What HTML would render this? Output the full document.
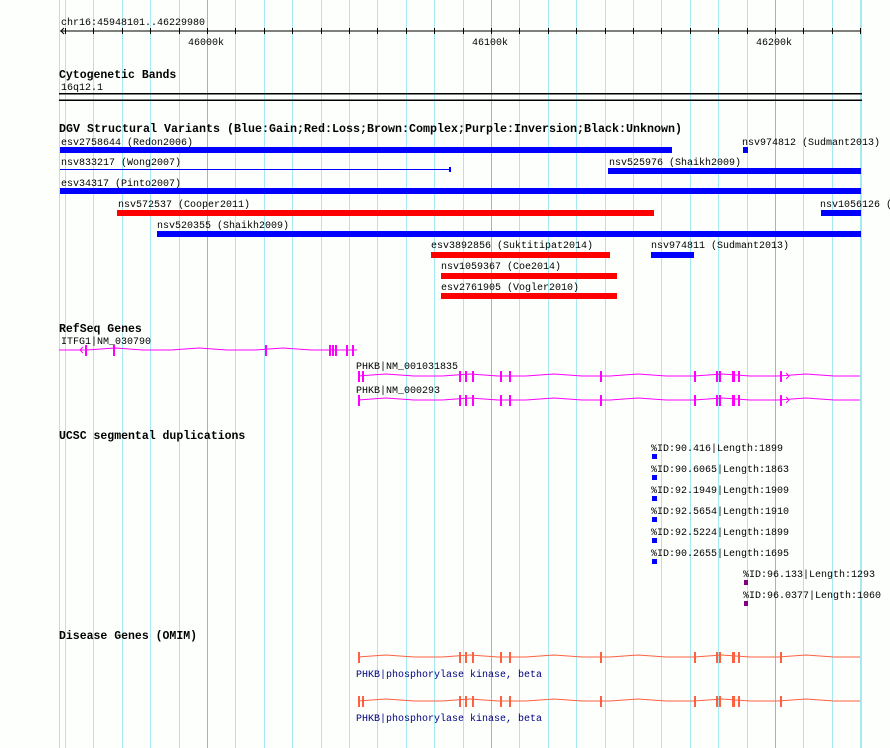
<!DOCTYPE html>
<html><head><meta charset="utf-8"><style>
html,body{margin:0;padding:0;background:#fdfffd}
svg{display:block}
text{font-family:"Liberation Mono","DejaVu Sans Mono",monospace;font-size:10px}
.t{font-weight:bold;font-size:11.5px}
</style></head><body>
<svg id="s" width="890" height="748" xmlns="http://www.w3.org/2000/svg">
<rect width="890" height="748" fill="#fdfffd"/>
<g id="grid"></g>
<!-- ruler -->
<line x1="60" y1="31" x2="861" y2="31" stroke="#000" stroke-width="1"/>
<polyline points="64,28 61,31 64,34" fill="none" stroke="#000"/>
<g id="ticks"></g>
<text x="61" y="25">chr16:45948101..46229980</text>
<text x="188" y="45">46000k</text>
<text x="472" y="45">46100k</text>
<text x="756" y="45">46200k</text>

<text class="t" x="59" y="78">Cytogenetic Bands</text>
<text x="61" y="90">16q12.1</text>
<rect x="59" y="93" width="803" height="1.5" fill="#000"/>
<rect x="59" y="99.5" width="803" height="1.5" fill="#000"/>

<text class="t" x="59" y="132" textLength="623" lengthAdjust="spacingAndGlyphs">DGV Structural Variants (Blue:Gain;Red:Loss;Brown:Complex;Purple:Inversion;Black:Unknown)</text>
<text x="61" y="145">esv2758644 (Redon2006)</text>
<rect x="60" y="147" width="612" height="6" fill="#0000ff"/>
<text x="742" y="145">nsv974812 (Sudmant2013)</text>
<rect x="743" y="147" width="5" height="6" fill="#0000ff"/>
<text x="61" y="165">nsv833217 (Wong2007)</text>
<rect x="60" y="169" width="390" height="1" fill="#0000ff"/>
<rect x="449" y="167" width="2" height="5" fill="#0000ff"/>
<text x="609" y="165">nsv525976 (Shaikh2009)</text>
<rect x="608" y="168" width="253" height="6" fill="#0000ff"/>
<text x="61" y="186">esv34317 (Pinto2007)</text>
<rect x="60" y="188" width="801" height="6" fill="#0000ff"/>
<text x="118" y="207">nsv572537 (Cooper2011)</text>
<rect x="117" y="210" width="537" height="6" fill="#ff0000"/>
<text x="820" y="207">nsv1056126 (Co</text>
<rect x="821" y="210" width="40" height="6" fill="#0000ff"/>
<text x="157" y="228">nsv520355 (Shaikh2009)</text>
<rect x="157" y="231" width="704" height="6" fill="#0000ff"/>
<text x="431" y="248">esv3892856 (Suktitipat2014)</text>
<rect x="431" y="252" width="179" height="6" fill="#ff0000"/>
<text x="651" y="248">nsv974811 (Sudmant2013)</text>
<rect x="651" y="252" width="43" height="6" fill="#0000ff"/>
<text x="441" y="269">nsv1059367 (Coe2014)</text>
<rect x="441" y="273" width="176" height="6" fill="#ff0000"/>
<text x="441" y="290">esv2761905 (Vogler2010)</text>
<rect x="441" y="293" width="176" height="6" fill="#ff0000"/>

<text class="t" x="59" y="332">RefSeq Genes</text>
<text x="61" y="344">ITFG1|NM_030790</text>
<text x="356" y="369">PHKB|NM_001031835</text>
<text x="356" y="393">PHKB|NM_000293</text>
<g id="genes"></g>

<text class="t" x="59" y="439">UCSC segmental duplications</text>
<text x="651" y="451">%ID:90.416|Length:1899</text>
<text x="651" y="472">%ID:90.6065|Length:1863</text>
<text x="651" y="493">%ID:92.1949|Length:1909</text>
<text x="651" y="514">%ID:92.5654|Length:1910</text>
<text x="651" y="535">%ID:92.5224|Length:1899</text>
<text x="651" y="556">%ID:90.2655|Length:1695</text>
<text x="743" y="577">%ID:96.133|Length:1293</text>
<text x="743" y="598">%ID:96.0377|Length:1060</text>
<rect x="652" y="454" width="5" height="5" fill="#0000ff"/>
<rect x="652" y="475" width="5" height="5" fill="#0000ff"/>
<rect x="652" y="496" width="5" height="5" fill="#0000ff"/>
<rect x="652" y="517" width="5" height="5" fill="#0000ff"/>
<rect x="652" y="538" width="5" height="5" fill="#0000ff"/>
<rect x="652" y="559" width="5" height="5" fill="#0000ff"/>
<rect x="744" y="580" width="4" height="5" fill="#800080"/>
<rect x="744" y="601" width="4" height="5" fill="#800080"/>

<text class="t" x="59" y="639">Disease Genes (OMIM)</text>
<text x="356" y="677" fill="#000080">PHKB|phosphorylase kinase, beta</text>
<text x="356" y="721" fill="#000080">PHKB|phosphorylase kinase, beta</text>
</svg>
<script>
var NS="http://www.w3.org/2000/svg";
function el(p,n,a){var e=document.createElementNS(NS,n);for(var k in a)e.setAttribute(k,a[k]);document.getElementById(p).appendChild(e);return e;}
// grid
el("grid","line",{x1:59.5,y1:0,x2:59.5,y2:748,stroke:"#a8e8f0"});
for(var i=0;i<29;i++){var x=Math.round(65+28.4*i)+0.5;var dark=(i==5||i==15||i==25);
el("grid","line",{x1:x,y1:0,x2:x,y2:748,stroke:dark?"#88bbe0":"#a8e8f0"});
el("ticks","line",{x1:x,y1:28,x2:x,y2:34,stroke:"#000"});}
el("grid","line",{x1:861.5,y1:0,x2:861.5,y2:748,stroke:"#a8e8f0"});
function gene(y,x0,x1,exons,col,w){
 var pts=[];var step=28;for(var x=x0;x<=x1;x+=step){var d=((x/step|0)%3==1)?-2:0;pts.push(x+","+(y+d));}
 pts.push(x1+","+y);
 el("genes","polyline",{points:pts.join(" "),fill:"none",stroke:col,"stroke-width":1});
 exons.forEach(function(e){el("genes","rect",{x:e[0],y:y-5,width:e[1]||2,height:11,fill:col});});
}
var M="#ff00ff";
gene(350,59,357,[[85],[113],[265],[329],[332],[335],[346],[352]],M);
el("genes","polyline",{points:"83,347 80,350 83,353",fill:"none",stroke:M});
var px=[[358],[362],[459],[465],[472],[500],[509],[600],[694],[716,2],[719],[732,3],[738],[780]];
gene(376,358,860,px,M);
gene(400,358,860,[[358]].concat(px.slice(2)),M);
el("genes","polyline",{points:"786,373 789,376 786,379",fill:"none",stroke:M});
el("genes","polyline",{points:"786,397 789,400 786,403",fill:"none",stroke:M});
var O="#ff6040";
var ox=[[358],[459],[465],[472],[500],[509],[600],[694],[716,2],[719],[732,3],[738],[780]];
gene(657,358,860,ox,O);
gene(701,358,860,[[358],[362]].concat(ox.slice(1)),O);
</script>
</body></html>
